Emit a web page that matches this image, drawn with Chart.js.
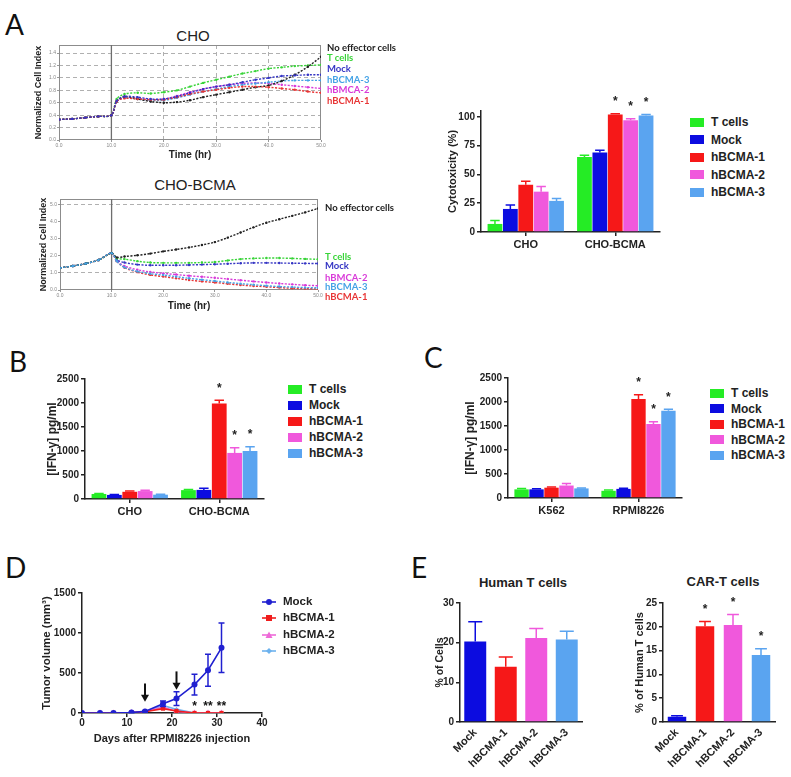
<!DOCTYPE html>
<html>
<head>
<meta charset="utf-8">
<title>BCMA CAR-T figure</title>
<script src="https://cdn.jsdelivr.net/npm/chart.js@4.4.1/dist/chart.umd.min.js"></script>
<style>
  body { margin: 0; background: #fff; }
  #fig { position: relative; width: 791px; height: 777px; overflow: hidden; background: #fff;
         font-family: "Liberation Sans", Arial, sans-serif; color: #222; }
  #fig canvas, #fig .txt, #fig .sw, #fig svg { position: absolute; }
  .txt { white-space: nowrap; line-height: 1; }
  .letter { font-family: Lato, "Open Sans", sans-serif; font-size: 28px; line-height: 28px; color: #111; }
  .mid { transform: translate(-50%, -50%); }
  .lbl { transform: translateY(-50%); font-family: Lato, sans-serif; font-weight: bold; font-size: 9.5px; }
  .leg { transform: translateY(-50%); font-weight: bold; font-size: 12px; }
  .sw { width: 14px; height: 9px; }
</style>
</head>
<body>
<div id="fig">
  <div class="txt letter" style="left:5px;top:10px">A</div>
  <div class="txt letter" style="left:9px;top:347px">B</div>
  <div class="txt letter" style="left:424px;top:343px">C</div>
  <div class="txt letter" style="left:5px;top:553px">D</div>
  <div class="txt letter" style="left:411px;top:553px">E</div>

  <div class="txt mid" style="left:193px;top:35px;font-size:15px">CHO</div>
  <div class="txt mid" style="left:195px;top:184px;font-size:15px">CHO-BCMA</div>
  <div class="txt mid" style="left:523px;top:582px;font-size:13px;font-weight:bold">Human T cells</div>
  <div class="txt mid" style="left:723px;top:581px;font-size:13px;font-weight:bold">CAR-T cells</div>

  <canvas id="cCho" width="297" height="123" style="left:33px;top:38px"></canvas>
  <canvas id="cChoBcma" width="292" height="119" style="left:38px;top:193px"></canvas>
  <canvas id="cCyto" width="229" height="160" style="left:446px;top:95px"></canvas>
  <canvas id="cIfnB" width="230" height="150" style="left:45px;top:370px"></canvas>
  <canvas id="cIfnC" width="232" height="150" style="left:463px;top:370px"></canvas>
  <canvas id="cTumor" width="235" height="161" style="left:40px;top:585px"></canvas>
  <canvas id="cHuman" width="160" height="182" style="left:434px;top:595px"></canvas>
  <canvas id="cCar" width="156" height="182" style="left:633px;top:595px"></canvas>
</div>

<script>
// ---- data ----
const seriesNames = ["T cells", "Mock", "hBCMA-1", "hBCMA-2", "hBCMA-3"];
const barColors = ["#25ec25", "#0c0ce0", "#f61818", "#f058dc", "#5aa4f0"];

// A: real-time cell index (time in hr)
const tA = [0, 2.5, 5, 7.5, 10, 11, 12.5, 15, 17.5, 20, 22.5, 25, 27.5, 30, 32.5, 35, 37.5, 40, 42.5, 45, 47.5, 50];
const choNoEff = [0.33, 0.34, 0.36, 0.38, 0.40, 0.62, 0.70, 0.66, 0.62, 0.60, 0.61, 0.64, 0.69, 0.73, 0.77, 0.81, 0.85, 0.88, 0.95, 1.05, 1.18, 1.34];
const choT     = [0.33, 0.34, 0.36, 0.38, 0.40, 0.66, 0.74, 0.76, 0.75, 0.77, 0.80, 0.86, 0.92, 0.97, 1.02, 1.07, 1.11, 1.15, 1.17, 1.19, 1.20, 1.21];
const choMock  = [0.33, 0.34, 0.36, 0.38, 0.40, 0.63, 0.70, 0.69, 0.66, 0.66, 0.70, 0.76, 0.82, 0.86, 0.89, 0.93, 0.97, 1.00, 1.03, 1.04, 1.05, 1.05];
const choB3    = [0.33, 0.34, 0.36, 0.38, 0.40, 0.62, 0.68, 0.66, 0.64, 0.64, 0.68, 0.73, 0.78, 0.82, 0.86, 0.89, 0.91, 0.93, 0.95, 0.96, 0.96, 0.96];
const choB2    = [0.33, 0.34, 0.36, 0.38, 0.40, 0.62, 0.68, 0.67, 0.65, 0.66, 0.71, 0.77, 0.82, 0.86, 0.89, 0.91, 0.92, 0.91, 0.89, 0.87, 0.85, 0.83];
const choB1    = [0.33, 0.34, 0.36, 0.38, 0.40, 0.62, 0.67, 0.66, 0.65, 0.65, 0.69, 0.74, 0.78, 0.81, 0.84, 0.86, 0.86, 0.85, 0.83, 0.81, 0.78, 0.76];

const bcNoEff = [1.29, 1.40, 1.54, 1.75, 2.15, 1.90, 1.95, 2.02, 2.12, 2.25, 2.36, 2.48, 2.62, 2.79, 3.05, 3.35, 3.65, 3.92, 4.12, 4.32, 4.52, 4.75];
const bcT     = [1.29, 1.40, 1.54, 1.75, 2.15, 1.85, 1.80, 1.68, 1.60, 1.58, 1.58, 1.58, 1.60, 1.63, 1.72, 1.80, 1.84, 1.86, 1.86, 1.84, 1.81, 1.79];
const bcMock  = [1.29, 1.40, 1.54, 1.75, 2.15, 1.75, 1.60, 1.48, 1.44, 1.44, 1.44, 1.46, 1.48, 1.50, 1.53, 1.56, 1.58, 1.58, 1.57, 1.56, 1.55, 1.54];
const bcB2    = [1.29, 1.40, 1.54, 1.75, 2.15, 1.70, 1.40, 1.18, 1.05, 0.97, 0.90, 0.83, 0.77, 0.71, 0.64, 0.57, 0.50, 0.44, 0.38, 0.33, 0.28, 0.25];
const bcB3    = [1.29, 1.40, 1.54, 1.75, 2.15, 1.68, 1.32, 1.08, 0.95, 0.87, 0.78, 0.68, 0.60, 0.52, 0.44, 0.37, 0.31, 0.25, 0.20, 0.17, 0.14, 0.13];
const bcB1    = [1.29, 1.40, 1.54, 1.75, 2.15, 1.68, 1.30, 1.04, 0.88, 0.78, 0.68, 0.58, 0.50, 0.44, 0.36, 0.29, 0.23, 0.19, 0.14, 0.10, 0.08, 0.06];
const timeTicks = [0, 10, 20, 30, 40, 50];

// A: cytotoxicity (%)
const cytoGroups = ["CHO", "CHO-BCMA"];
const cytoT = [7, 65], cytoTErr = [3, 1.5];
const cytoMock = [20, 69], cytoMockErr = [3.5, 2];
const cytoB1 = [41, 102], cytoB1Err = [3, 0.6];
const cytoB2 = [35, 97], cytoB2Err = [4.5, 1.2];
const cytoB3 = [27, 101], cytoB3Err = [2, 1];
const cytoStars = ["", "*"];

// B: IFN-gamma vs CHO targets
const ifnBGroups = ["CHO", "CHO-BCMA"];
const ifnBT = [105, 185], ifnBTErr = [12, 15];
const ifnBMock = [85, 190], ifnBMockErr = [8, 35];
const ifnBB1 = [150, 1990], ifnBB1Err = [15, 65];
const ifnBB2 = [165, 960], ifnBB2Err = [15, 110];
const ifnBB3 = [90, 1000], ifnBB3Err = [8, 90];

// C: IFN-gamma vs myeloma lines
const ifnCGroups = ["K562", "RPMI8226"];
const ifnCT = [180, 150], ifnCTErr = [20, 15];
const ifnCMock = [180, 190], ifnCMockErr = [12, 15];
const ifnCB1 = [215, 2060], ifnCB1Err = [15, 90];
const ifnCB2 = [260, 1540], ifnCB2Err = [40, 50];
const ifnCB3 = [200, 1820], ifnCB3Err = [10, 28];

// D: tumor volume (mm3)
const days = [0, 4, 7, 11, 14, 18, 21, 25, 28, 31];
const volMock = [0, 0, 0, 5, 20, 115, 180, 355, 535, 815];
const volMockErr = [0, 0, 0, 3, 8, 35, 85, 130, 200, 310];
const volB1 = [0, 0, 0, 5, 15, 55, 25, 0, 0, 0];
const volB2 = [0, 0, 0, 5, 15, 75, 20, 0, 0, 0];
const volB3 = [0, 0, 0, 5, 15, 95, 45, 0, 0, 0];
const arrowDays = [14, 21], arrowFrom = [370, 520], arrowTo = [140, 290];
const starDays = [25, 28, 31], starText = ["*", "**", "**"], starLevel = 125;

// E
const eLabels = ["Mock", "hBCMA-1", "hBCMA-2", "hBCMA-3"];
const eColors = ["#0c0ce0", "#f61818", "#f058dc", "#5aa4f0"];
const humanT = [20.3, 13.9, 21.2, 20.8], humanTErr = [5, 2.5, 2.4, 2.1];
const carT = [1.1, 20.1, 20.4, 14.1], carTErr = [0.2, 1.0, 2.2, 1.3];
const carTStars = ["", "*", "*", "*"];

// ---- helpers ----
const AXIS = "#222";
const FONT = '"Liberation Sans", Arial, sans-serif';
Chart.defaults.font.family = FONT;
Chart.defaults.color = AXIS;
Chart.defaults.animation = false;
Chart.defaults.responsive = false;
Chart.defaults.plugins.legend.display = false;
Chart.defaults.plugins.tooltip.enabled = false;
const bold = size => ({ size, weight: "bold" });
const plain = v => String(v);
const fig = document.getElementById("fig");
const add = html => fig.insertAdjacentHTML("beforeend", html);

const errBars = {
  id: "errBars",
  afterDatasetsDraw(chart) {
    const { ctx } = chart;
    const y = chart.scales.y;
    chart.data.datasets.forEach((ds, i) => {
      if (!ds.errors) return;
      chart.getDatasetMeta(i).data.forEach((el, j) => {
        const raw = ds.data[j];
        const v = typeof raw === "number" ? raw : raw.y;
        const e = ds.errors[j];
        const col = Array.isArray(ds.backgroundColor) ? ds.backgroundColor[j] : ds.backgroundColor;
        const half = el.width ? el.width * 0.32 : 3;
        const top = y.getPixelForValue(v + e);
        ctx.save();
        ctx.strokeStyle = col;
        ctx.lineWidth = 1.5;
        if (e > 0) {
          const bottom = y.getPixelForValue(ds.twoSided ? Math.max(v - e, 0) : v);
          ctx.beginPath();
          ctx.moveTo(el.x, bottom); ctx.lineTo(el.x, top);
          ctx.moveTo(el.x - half, top); ctx.lineTo(el.x + half, top);
          if (ds.twoSided) { ctx.moveTo(el.x - half, bottom); ctx.lineTo(el.x + half, bottom); }
          ctx.stroke();
        }
        if (ds.stars && ds.stars[j]) {
          ctx.fillStyle = AXIS;
          ctx.font = "bold 12px " + FONT;
          ctx.textAlign = "center";
          ctx.fillText(ds.stars[j], el.x, top - 8.5);
        }
        ctx.restore();
      });
    });
  }
};

const framePlugin = {
  id: "frame",
  beforeDatasetsDraw(chart, args, opts) {
    const { ctx, chartArea: a, scales: { x } } = chart;
    ctx.save();
    ctx.strokeStyle = "#8c8c8c";
    ctx.lineWidth = 1;
    ctx.strokeRect(a.left + 0.5, a.top + 0.5, a.width - 1, a.height - 1);
    ctx.strokeStyle = "#6e6e6e";
    ctx.lineWidth = 1.3;
    (opts.solidX || []).forEach(v => {
      const px = x.getPixelForValue(v);
      ctx.beginPath(); ctx.moveTo(px, a.top); ctx.lineTo(px, a.bottom); ctx.stroke();
    });
    ctx.restore();
  }
};

const tumorMarks = {
  id: "tumorMarks",
  afterDatasetsDraw(chart) {
    const { ctx, scales: { x, y } } = chart;
    ctx.save();
    ctx.strokeStyle = ctx.fillStyle = "#111";
    ctx.lineWidth = 2;
    arrowDays.forEach((d, i) => {
      const px = x.getPixelForValue(d);
      const y1 = y.getPixelForValue(arrowFrom[i]);
      const y2 = y.getPixelForValue(arrowTo[i]);
      ctx.beginPath(); ctx.moveTo(px, y1); ctx.lineTo(px, y2 - 5); ctx.stroke();
      ctx.beginPath(); ctx.moveTo(px - 4, y2 - 7); ctx.lineTo(px + 4, y2 - 7); ctx.lineTo(px, y2); ctx.closePath(); ctx.fill();
    });
    ctx.font = "bold 12px " + FONT;
    ctx.textAlign = "center";
    starDays.forEach((d, i) => ctx.fillText(starText[i], x.getPixelForValue(d), y.getPixelForValue(starLevel) + 6.5));
    ctx.restore();
  }
};

function axisY(cfg) {
  return {
    min: 0, max: cfg.max,
    afterBuildTicks: s => { s.ticks = cfg.ticks.map(value => ({ value })); },
    grid: { drawOnChartArea: false, tickLength: 4, color: AXIS, lineWidth: 1.5 },
    border: { color: AXIS, width: 1.5 },
    ticks: { font: bold(10), padding: 2, callback: plain },
    title: { display: true, text: cfg.title, font: bold(cfg.titleSize), padding: 0 },
    afterFit: s => { s.width = cfg.width; }
  };
}

function groupedBars(id, labels, sets, cfg) {
  return new Chart(document.getElementById(id), {
    type: "bar",
    data: {
      labels,
      datasets: sets.map((s, i) => ({
        data: s[0], errors: s[1], stars: s[2],
        backgroundColor: barColors[i], borderWidth: 0
      }))
    },
    options: {
      devicePixelRatio: 1,
      layout: { padding: cfg.padding },
      datasets: { bar: { barPercentage: 0.96, categoryPercentage: cfg.catPct } },
      scales: {
        x: {
          grid: { offset: false, drawOnChartArea: false, tickLength: 4, color: AXIS, lineWidth: 1.5 },
          border: { color: AXIS, width: 1.5 },
          ticks: { font: bold(11), padding: 2, maxRotation: 0 },
          afterFit: s => { s.height = cfg.xHeight; }
        },
        y: axisY(cfg.y)
      }
    },
    plugins: [errBars]
  });
}

function singleBars(id, values, errors, stars, cfg) {
  return new Chart(document.getElementById(id), {
    type: "bar",
    data: {
      labels: eLabels,
      datasets: [{ data: values, errors, stars, backgroundColor: eColors, borderWidth: 0 }]
    },
    options: {
      devicePixelRatio: 1,
      layout: { padding: cfg.padding },
      datasets: { bar: { barPercentage: cfg.barPct, categoryPercentage: 1 } },
      scales: {
        x: {
          grid: { drawOnChartArea: false, drawTicks: false },
          border: { color: AXIS, width: 1.5 },
          ticks: { font: bold(11), padding: 4, minRotation: 45, maxRotation: 45, autoSkip: false },
          afterFit: s => { s.height = cfg.xHeight; }
        },
        y: axisY(cfg.y)
      }
    },
    plugins: [errBars]
  });
}

function cellIndexChart(id, series, cfg) {
  return new Chart(document.getElementById(id), {
    type: "line",
    data: {
      datasets: series.map(s => ({
        data: tA.map((t, i) => ({ x: t, y: s.values[i] })),
        borderColor: s.color, backgroundColor: s.color,
        borderWidth: 1.4, borderDash: [2, 1.4],
        pointRadius: 1.2, pointBorderWidth: 0, pointBackgroundColor: s.color,
        tension: 0.3, fill: false
      }))
    },
    options: {
      devicePixelRatio: 1,
      layout: { padding: cfg.padding },
      plugins: { frame: { solidX: [10] } },
      scales: {
        x: {
          type: "linear", min: 0, max: 50,
          afterBuildTicks: s => { s.ticks = timeTicks.map(value => ({ value })); },
          grid: { color: c => cfg.xGrid.includes(c.tick.value) ? "#b0b0b0" : "rgba(0,0,0,0)",
                  tickColor: "#999", tickLength: 2, lineWidth: 1 },
          border: { display: false, dash: [4, 3] },
          ticks: { font: { size: 5 }, color: "#888", padding: 1, maxRotation: 0, callback: v => v.toFixed(1) },
          title: { display: true, text: "Time (hr)", font: bold(10), padding: 0 },
          afterFit: s => { s.height = cfg.xHeight; }
        },
        y: {
          min: 0, max: cfg.yMax,
          afterBuildTicks: s => { s.ticks = cfg.yTicks.map(value => ({ value })); },
          grid: { color: c => cfg.yGrid.includes(c.tick.value) ? "#b0b0b0" : "rgba(0,0,0,0)",
                  tickColor: "#999", tickLength: 2, lineWidth: 1 },
          border: { display: false, dash: [4, 3] },
          ticks: { font: { size: 5 }, color: "#888", padding: 1, callback: v => v.toFixed(1) },
          title: { display: true, text: "Normalized Cell Index", font: bold(9), padding: 0 },
          afterFit: s => { s.width = cfg.yWidth; }
        }
      }
    },
    plugins: [framePlugin]
  });
}

// ---- panel A: cell index ----
const LC = { none: "#222222", t: "#38d438", mock: "#3535c4", b3: "#45a3e6", b2: "#d93ad9", b1: "#e83636" };
cellIndexChart("cCho", [
  { values: choMock, color: LC.mock },
  { values: choB1, color: LC.b1 },
  { values: choNoEff, color: LC.none },
  { values: choT, color: LC.t },
  { values: choB3, color: LC.b3 },
  { values: choB2, color: LC.b2 }
], { padding: { top: 7, right: 9 }, xHeight: 21, yWidth: 26, yMax: 1.53,
     yTicks: [0, 0.2, 0.4, 0.6, 0.8, 1.0, 1.2, 1.4], yGrid: [0.2, 0.4, 0.6, 0.8, 1.0, 1.2, 1.4], xGrid: [20, 30, 40] });

cellIndexChart("cChoBcma", [
  { values: bcB3, color: LC.b3 },
  { values: bcNoEff, color: LC.none },
  { values: bcT, color: LC.t },
  { values: bcMock, color: LC.mock },
  { values: bcB2, color: LC.b2 },
  { values: bcB1, color: LC.b1 }
], { padding: { top: 6, right: 12 }, xHeight: 22, yWidth: 22, yMax: 5.3,
     yTicks: [0, 1, 2, 3, 4, 5], yGrid: [1, 5], xGrid: [] });

const choLabels = [["No effector cells", LC.none, 48], ["T cells", LC.t, 58], ["Mock", LC.mock, 69],
                   ["hBCMA-3", LC.b3, 80], ["hBMCA-2", LC.b2, 90], ["hBCMA-1", LC.b1, 101]];
choLabels.forEach(([t, c, y]) => add(`<div class="txt lbl" style="left:327px;top:${y}px;color:${c}">${t}</div>`));
const bcLabels = [["No effector cells", LC.none, 208], ["T cells", LC.t, 257], ["Mock", LC.mock, 266],
                  ["hBMCA-2", LC.b2, 278], ["hBCMA-3", LC.b3, 287], ["hBCMA-1", LC.b1, 297]];
bcLabels.forEach(([t, c, y]) => add(`<div class="txt lbl" style="left:325px;top:${y}px;color:${c}">${t}</div>`));

// ---- panel A: cytotoxicity ----
groupedBars("cCyto", cytoGroups, [
  [cytoT, cytoTErr], [cytoMock, cytoMockErr],
  [cytoB1, cytoB1Err, cytoStars], [cytoB2, cytoB2Err, cytoStars], [cytoB3, cytoB3Err, cytoStars]
], { padding: { top: 16, right: 15 }, xHeight: 23, catPct: 0.86,
     y: { max: 105, ticks: [0, 25, 50, 75, 100], title: "Cytotoxicity (%)", titleSize: 11, width: 35 } });

// ---- panel B ----
groupedBars("cIfnB", ifnBGroups, [
  [ifnBT, ifnBTErr], [ifnBMock, ifnBMockErr],
  [ifnBB1, ifnBB1Err, ["", "*"]], [ifnBB2, ifnBB2Err, ["", "*"]], [ifnBB3, ifnBB3Err, ["", "*"]]
], { padding: { top: 9, right: 11 }, xHeight: 21, catPct: 0.86,
     y: { max: 2500, ticks: [0, 500, 1000, 1500, 2000, 2500], title: "[IFN-γ] pg/ml", titleSize: 12, width: 40 } });

// ---- panel C ----
groupedBars("cIfnC", ifnCGroups, [
  [ifnCT, ifnCTErr], [ifnCMock, ifnCMockErr],
  [ifnCB1, ifnCB1Err, ["", "*"]], [ifnCB2, ifnCB2Err, ["", "*"]], [ifnCB3, ifnCB3Err, ["", "*"]]
], { padding: { top: 8, right: 13 }, xHeight: 22, catPct: 0.86,
     y: { max: 2500, ticks: [0, 500, 1000, 1500, 2000, 2500], title: "[IFN-γ] pg/ml", titleSize: 12, width: 45 } });

function barLegend(x, y0, step) {
  seriesNames.forEach((name, i) => {
    const y = y0 + i * step;
    add(`<div class="sw" style="left:${x}px;top:${y - 4.5}px;background:${barColors[i]}"></div>`);
    add(`<div class="txt leg" style="left:${x + 21}px;top:${y}px">${name}</div>`);
  });
}
barLegend(690, 122, 17.5);
barLegend(288, 389, 16);
barLegend(710, 393, 15.6);

// ---- panel D ----
const DC = { mock: "#2020d0", b1: "#f01c1c", b2: "#ee6ad8", b3: "#6cb2ee" };
const pts = vals => days.map((d, i) => ({ x: d, y: vals[i] }));
new Chart(document.getElementById("cTumor"), {
  type: "line",
  data: {
    datasets: [
      { data: pts(volMock), errors: volMockErr, twoSided: true, borderColor: DC.mock, backgroundColor: DC.mock, pointStyle: "circle", pointRadius: 3 },
      { data: pts(volB1), borderColor: DC.b1, backgroundColor: DC.b1, pointStyle: "rect", pointRadius: 3 },
      { data: pts(volB2), borderColor: DC.b2, backgroundColor: DC.b2, pointStyle: "triangle", pointRadius: 3.5 },
      { data: pts(volB3), borderColor: DC.b3, backgroundColor: DC.b3, pointStyle: "rectRot", pointRadius: 2.5 }
    ]
  },
  options: {
    devicePixelRatio: 1,
    layout: { padding: { top: 8, right: 13 } },
    elements: { line: { borderWidth: 1.6, tension: 0 }, point: { borderWidth: 0 } },
    scales: {
      x: {
        type: "linear", min: 0, max: 40,
        afterBuildTicks: s => { s.ticks = [0, 10, 20, 30, 40].map(value => ({ value })); },
        grid: { drawOnChartArea: false, tickLength: 4, color: AXIS, lineWidth: 1.5 },
        border: { color: AXIS, width: 1.5 },
        ticks: { font: bold(10), padding: 0, maxRotation: 0, callback: plain },
        title: { display: true, text: "Days after RPMI8226 injection", font: bold(11), padding: 0 },
        afterFit: s => { s.height = 33; }
      },
      y: axisY({ max: 1500, ticks: [0, 500, 1000, 1500], title: "Tumor volume (mm³)", titleSize: 11.5, width: 42 })
    }
  },
  plugins: [errBars, tumorMarks]
});

const dLegend = [["Mock", DC.mock, "c"], ["hBCMA-1", DC.b1, "s"], ["hBCMA-2", DC.b2, "t"], ["hBCMA-3", DC.b3, "d"]];
[602, 618, 635, 651].forEach((y, i) => {
  const [name, col, shape] = dLegend[i];
  const mark = shape === "c" ? `<circle cx="7" cy="5" r="3" fill="${col}"/>`
    : shape === "s" ? `<rect x="4" y="2" width="6" height="6" fill="${col}"/>`
    : shape === "t" ? `<polygon points="7,1.5 10.5,8 3.5,8" fill="${col}"/>`
    : `<polygon points="7,2 10,5 7,8 4,5" fill="${col}"/>`;
  add(`<svg width="14" height="10" style="left:262px;top:${y - 5}px"><line x1="0" y1="5" x2="14" y2="5" stroke="${col}" stroke-width="1.6"/>${mark}</svg>`);
  add(`<div class="txt leg" style="left:283px;top:${y}px;font-size:11.5px">${name}</div>`);
});

// ---- panel E ----
singleBars("cHuman", humanT, humanTErr, null, {
  padding: { top: 8, right: 12 }, xHeight: 55, barPct: 0.72,
  y: { max: 30, ticks: [0, 10, 20, 30], title: "% of Cells", titleSize: 10.5, width: 26 }
});
singleBars("cCar", carT, carTErr, carTStars, {
  padding: { top: 7, right: 14 }, xHeight: 55, barPct: 0.66,
  y: { max: 25, ticks: [0, 5, 10, 15, 20, 25], title: "% of Human T cells", titleSize: 11, width: 30 }
});
</script>
</body>
</html>
